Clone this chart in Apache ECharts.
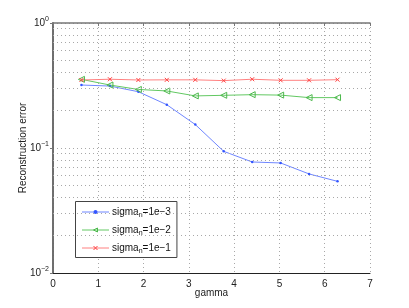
<!DOCTYPE html>
<html>
<head>
<meta charset="utf-8">
<script src="https://cdn.jsdelivr.net/npm/echarts@6/dist/echarts.min.js"></script>
<style>html,body{margin:0;padding:0;background:#fff}#c{width:409px;height:308px}</style>
</head>
<body>
<div id="c"></div>
<script>
var gammaValues = [0.628, 1.257, 1.885, 2.513, 3.142, 3.770, 4.398, 5.027, 5.655, 6.283];
var sigma1e3 = [0.319, 0.313, 0.282, 0.222, 0.154, 0.094, 0.0773, 0.0759, 0.062, 0.0541];
var sigma1e2 = [0.354, 0.319, 0.294, 0.286, 0.261, 0.264, 0.267, 0.265, 0.253, 0.253];
var sigma1e1 = [0.350, 0.355, 0.350, 0.351, 0.351, 0.346, 0.355, 0.348, 0.348, 0.352];
var seriesNames = ['1e\u22123', '1e\u22122', '1e\u22121'];
var xTicks = [0, 1, 2, 3, 4, 5, 6, 7];
var yDecades = [0.01, 0.1, 1];
var yMinor = [0.02, 0.03, 0.04, 0.05, 0.06, 0.07, 0.08, 0.09, 0.2, 0.3, 0.4, 0.5, 0.6, 0.7, 0.8, 0.9];

function pairs(ys) { return gammaValues.map(function (g, i) { return [g, ys[i]]; }); }
var font = 'Liberation Sans, Arial, sans-serif';
var gridDot = { color: '#a8a8a8', type: [1, 3], width: 1 };
var xMark = 'path://M0,0L10,10M10,0L0,10';
var leftTri = 'path://M0,5L10,0L10,10Z';

var chart = echarts.init(document.getElementById('c'));
chart.setOption({
  animation: false,
  grid: { left: 53, right: 39, top: 23, bottom: 35 },
  legend: {
    orient: 'vertical', left: 75.5, top: 201.5, width: 93, height: 58,
    padding: [4, 6, 3, 6], itemGap: 5, itemWidth: 27, itemHeight: 5,
    backgroundColor: '#fff', borderColor: '#444', borderWidth: 1,
    lineStyle: { width: 1 },
    itemStyle: { borderWidth: 1 },
    textStyle: {
      fontFamily: font, fontSize: 10, color: '#111', padding: [0, 0, 0, -2],
      rich: {
        a: { fontFamily: font, fontSize: 10, color: '#111', lineHeight: 14 },
        s: { fontFamily: font, fontSize: 7, color: '#111', lineHeight: 8, padding: [6, 0, 0, 0] }
      }
    },
    formatter: function (n) { return '{a|sigma}{s|n}{a|=' + n + '}'; },
    data: seriesNames
  },
  xAxis: [{
    type: 'value', min: xTicks[0], max: xTicks[xTicks.length - 1], interval: 1,
    name: 'gamma', nameLocation: 'middle', nameGap: 15, nameMoveOverlap: false,
    nameTextStyle: { fontFamily: font, fontSize: 10, color: '#222' },
    axisLine: { lineStyle: { color: '#222', width: 1 } },
    axisTick: { show: false },
    axisLabel: { fontFamily: font, fontSize: 10, color: '#222', margin: 6 },
    splitLine: { show: true, lineStyle: gridDot }
  }, {
    type: 'value', position: 'top', min: xTicks[0], max: xTicks[xTicks.length - 1], interval: 1,
    axisLine: { show: true, lineStyle: { color: '#777', width: 1.5 } },
    axisTick: { show: true, inside: true, length: 3, lineStyle: { color: '#777' } },
    axisLabel: { show: false }, splitLine: { show: false }
  }],
  yAxis: [{
    type: 'log', min: yDecades[0], max: yDecades[yDecades.length - 1], logBase: 10,
    name: 'Reconstruction error', nameLocation: 'middle', nameGap: 25, nameMoveOverlap: false,
    nameTextStyle: { fontFamily: font, fontSize: 10, color: '#222' },
    axisLine: { show: true, lineStyle: { color: '#222', width: 1.5 } },
    axisTick: { show: false },
    axisLabel: {
      fontFamily: font, fontSize: 10, color: '#222', margin: 4,
      formatter: function (v) { return '{b|10}{e|' + String(Math.round(Math.log10(v))).replace('-', '\u2212') + '}'; },
      rich: {
        b: { fontFamily: font, fontSize: 10, color: '#222' },
        e: { fontFamily: font, fontSize: 7, color: '#222', padding: [0, 0, 7, 0] }
      }
    },
    splitLine: { show: true, lineStyle: gridDot }
  }, {
    type: 'log', position: 'right', min: yDecades[0], max: yDecades[yDecades.length - 1], logBase: 10,
    axisLine: { show: true, lineStyle: { color: '#777', width: 1.5 } },
    axisTick: { show: true, inside: true, length: 3, lineStyle: { color: '#777' } },
    axisLabel: { show: false }, splitLine: { show: false }
  }],
  series: [{
    name: seriesNames[0], type: 'line', data: pairs(sigma1e3),
    symbol: 'circle', symbolSize: 2.5,
    lineStyle: { color: '#6f86ff', width: 1 },
    itemStyle: { color: '#3355ff' },
    markLine: {
      silent: true, symbol: 'none', label: { show: false },
      lineStyle: gridDot,
      data: yMinor.map(function (v) { return { yAxis: v }; })
    },
    z: 3
  }, {
    name: seriesNames[1], type: 'line', data: pairs(sigma1e2),
    symbol: leftTri, symbolSize: 6,
    lineStyle: { color: '#62c862', width: 1 },
    itemStyle: { color: 'rgba(255,255,255,0)', borderColor: '#4cb84c', borderWidth: 1 },
    z: 3
  }, {
    name: seriesNames[2], type: 'line', data: pairs(sigma1e1),
    symbol: xMark, symbolSize: 4,
    lineStyle: { color: '#ff8080', width: 1 },
    itemStyle: { color: 'none', borderColor: '#ff4040', borderWidth: 1 },
    z: 3
  }]
});
</script>
</body>
</html>
